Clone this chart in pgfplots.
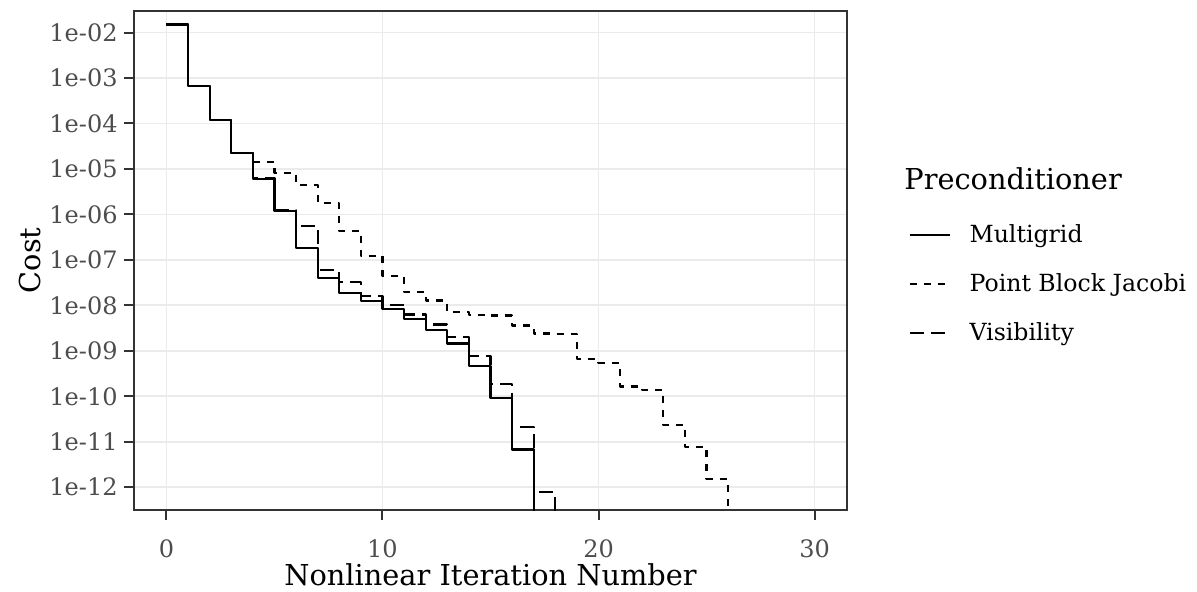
\documentclass[border=0pt]{standalone}
\usepackage{fontspec}
\setmainfont{DejaVu Serif}
\usepackage{pgfplots}
\pgfplotsset{compat=1.18}
\definecolor{gridc}{HTML}{EBEBEB}
\definecolor{borderc}{HTML}{333333}
\definecolor{tickc}{HTML}{4D4D4D}
\newcommand{\ticksize}{\fontsize{12}{14}\selectfont}
\newcommand{\legsize}{\fontsize{11.8}{14}\selectfont}
\newcommand{\titlesize}{\fontsize{14.4}{17}\selectfont}
\begin{document}
\begin{tikzpicture}
\useasboundingbox (0,0) rectangle (598.5pt,296pt);
\begin{axis}[
  at={(67pt,41pt)}, anchor=south west,
  scale only axis, width=356.5pt, height=249.65pt,
  xmin=-1.5, xmax=31.5,
  ymode=log, log basis y=10, ymin=3.162e-13, ymax=3.02e-2,
  xtick={0,10,20,30}, xticklabels={0,10,20,30},
  ytick={1e-12,1e-11,1e-10,1e-9,1e-8,1e-7,1e-6,1e-5,1e-4,1e-3,1e-2},
  yticklabels={1e-12,1e-11,1e-10,1e-09,1e-08,1e-07,1e-06,1e-05,1e-04,1e-03,1e-02},
  yminorticks=false, xminorticks=false,
  grid=major, major grid style={draw=gridc, line width=0.9pt},
  axis line style={draw=borderc, line width=1pt},
  tick pos=left, tick align=outside, major tick length=5pt,
  every tick/.style={draw=borderc, line width=1pt},
  xticklabel style={anchor=base, inner sep=0pt, font=\ticksize, text=tickc},
  every x tick label/.append style={yshift=-18.65pt},
  yticklabel style={anchor=east, inner sep=0pt, font=\ticksize, text=tickc, xshift=-3pt},
  xlabel={Nonlinear Iteration Number},
  ylabel={Cost},
  xlabel style={at={(axis description cs:0.5,-0.1502)}, anchor=base, font=\titlesize},
  ylabel style={at={(axis description cs:-0.1459,0.5)}, anchor=center, font=\titlesize},
  legend style={at={(1.08555,0.4526)}, anchor=west, draw=none, fill=none, inner sep=0pt,
    row sep=10pt, column sep=7.5pt,
    font=\legsize},
  legend cell align=left,
  legend image code/.code={\draw[#1] (0pt,0pt) -- (20pt,0pt);},
]
\addplot[black, line width=1.1pt, const plot, line join=round] coordinates {
(0,1.5e-2)(1,6.8e-4)(2,1.2e-4)(3,2.2e-5)(4,6.0e-6)(5,1.2e-6)(6,1.8e-7)(7,4.0e-8)(8,1.86e-8)(9,1.23e-8)(10,8.3e-9)(11,5.0e-9)(12,2.9e-9)(13,1.45e-9)(14,4.7e-10)(15,9.1e-11)(16,6.8e-12)(17,1e-15)
};
\addlegendentry{Multigrid}
\addplot[black, line width=1.1pt, const plot, line join=round, dash pattern=on 3.5pt off 3.5pt] coordinates {
(0,1.5e-2)(1,6.8e-4)(2,1.2e-4)(3,2.2e-5)(4,1.4e-5)(5,8.1e-6)(6,4.4e-6)(7,1.78e-6)(8,4.4e-7)(9,1.2e-7)(10,4.4e-8)(11,1.95e-8)(12,1.28e-8)(13,7.1e-9)(14,6.1e-9)(15,6.0e-9)(16,3.6e-9)(17,2.4e-9)(18,2.3e-9)(19,6.5e-10)(20,5.4e-10)(21,1.65e-10)(22,1.4e-10)(23,2.3e-11)(24,7.8e-12)(25,1.5e-12)(26,1e-15)
};
\addlegendentry{Point Block Jacobi}
\addplot[black, line width=1.1pt, const plot, line join=round, dash pattern=on 7pt off 3.5pt] coordinates {
(0,1.5e-2)(1,6.8e-4)(2,1.2e-4)(3,2.25e-5)(4,6.4e-6)(5,1.25e-6)(6,5.6e-7)(7,5.9e-8)(8,3.2e-8)(9,1.6e-8)(10,1.02e-8)(11,6.3e-9)(12,3.8e-9)(13,2.0e-9)(14,7.6e-10)(15,1.9e-10)(16,2.1e-11)(17,8e-13)(18,1e-15)
};
\addlegendentry{Visibility}
\end{axis}
\node[anchor=base west, font=\titlesize, inner sep=0pt] at (452pt,201.35pt) {Preconditioner};
\end{tikzpicture}
\end{document}
